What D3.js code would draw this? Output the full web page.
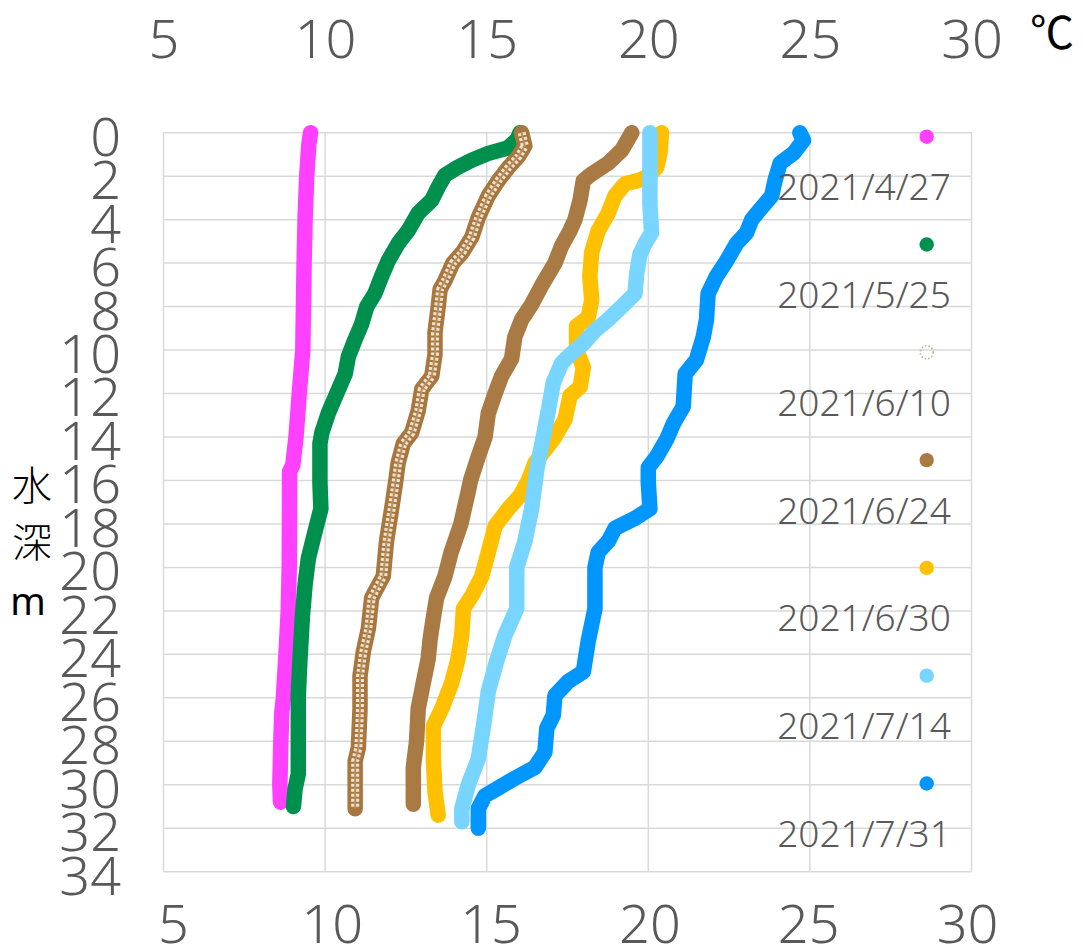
<!DOCTYPE html>
<html>
<head>
<meta charset="utf-8">
<script src="https://cdn.jsdelivr.net/npm/d3@7"></script>
<style>
  html, body { margin: 0; padding: 0; background: #fff; }
  svg { display: block; }
</style>
</head>
<body>
<svg id="chart" width="1083" height="952"></svg>
<script>
// ---- data (depth m, temperature ℃) ----
const seriesNames = ["2021/4/27", "2021/5/25", "2021/6/10", "2021/6/24", "2021/6/30", "2021/7/14", "2021/7/31"];
const seriesColors = ["#FF40FF", "#00904E", "#B08650", "#A97A44", "#FFC000", "#78D5FF", "#0096FF"];

const depth0427 = [0, 0.5, 2, 4, 6, 8, 10, 12, 14, 15.3, 15.6, 17, 20, 22, 24, 26, 26.7, 28, 30, 30.8];
const temp0427  = [9.55, 9.5, 9.43, 9.38, 9.35, 9.33, 9.31, 9.2, 9.1, 9.0, 8.9, 8.9, 8.89, 8.86, 8.79, 8.71, 8.66, 8.63, 8.6, 8.62];

const depth0525 = [0, 0.3, 0.7, 0.95, 1.26, 1.6, 1.95, 2.5, 3.1, 3.7, 4.5, 5.1, 5.9, 6.6, 7.4, 8.0, 8.8, 9.5, 10.3, 11.1, 12, 12.9, 13.8, 14.3, 16.1, 17.3, 18.4, 19.6, 20.8, 22.2, 24.3, 25.9, 29.5, 30.2, 31.0];
const temp0525  = [16.03, 15.95, 15.65, 15.05, 14.54, 14.1, 13.71, 13.5, 13.3, 12.88, 12.57, 12.26, 11.95, 11.75, 11.54, 11.29, 11.13, 10.93, 10.72, 10.62, 10.36, 10.1, 9.9, 9.84, 9.84, 9.87, 9.68, 9.48, 9.38, 9.3, 9.22, 9.17, 9.17, 9.07, 9.02];

const depth0610 = [0, 0.6, 1.1, 1.6, 2.2, 2.9, 3.9, 4.8, 5.5, 6.0, 6.8, 7.2, 8.0, 9.2, 10.2, 11.2, 11.8, 12.8, 13.8, 14.3, 15.2, 16.1, 17.3, 18.8, 20.4, 21.4, 22.8, 23.9, 25.0, 26.5, 28.3, 28.9, 31.1];
const temp0610  = [16.08, 16.18, 15.98, 15.67, 15.36, 15.05, 14.74, 14.54, 14.25, 13.95, 13.71, 13.56, 13.5, 13.4, 13.4, 13.3, 12.99, 12.88, 12.68, 12.42, 12.26, 12.18, 12.06, 11.9, 11.8, 11.44, 11.34, 11.18, 11.08, 11.08, 11.03, 10.93, 10.93];

const depth0624 = [0, 0.8, 1.4, 1.9, 2.2, 3.1, 4.0, 4.5, 5.2, 6.0, 6.9, 7.9, 8.6, 9.4, 10.4, 11.2, 12.0, 12.9, 14.0, 14.9, 16.0, 16.5, 18.0, 19.3, 20.4, 21.4, 22.3, 23.3, 24.2, 25.3, 26.5, 28.0, 29.2, 30.9];
const temp0624  = [19.49, 19.18, 18.76, 18.25, 17.99, 17.89, 17.73, 17.58, 17.32, 17.11, 16.75, 16.39, 16.08, 15.87, 15.77, 15.46, 15.26, 15.05, 14.95, 14.74, 14.5, 14.43, 14.2, 13.9, 13.71, 13.45, 13.35, 13.25, 13.19, 13.04, 12.88, 12.83, 12.73, 12.73];

const depth0630 = [0, 0.95, 1.6, 2.0, 2.2, 2.35, 2.9, 3.7, 4.5, 5.5, 6.6, 7.7, 8.5, 8.9, 10.0, 10.8, 11.7, 12.1, 13.2, 14.0, 14.6, 15.2, 16.0, 16.7, 17.3, 18.1, 19.3, 20.4, 21.3, 21.9, 23.1, 24.3, 25.3, 26.5, 27.3, 28.8, 30.3, 31.4];
const temp0630  = [20.41, 20.36, 20.26, 20.0, 19.7, 19.28, 18.97, 18.76, 18.45, 18.25, 18.19, 18.25, 18.14, 17.78, 17.78, 17.99, 17.89, 17.58, 17.42, 17.11, 16.8, 16.49, 16.29, 16.03, 15.67, 15.26, 15.05, 14.85, 14.54, 14.28, 14.23, 14.1, 13.92, 13.61, 13.35, 13.35, 13.4, 13.5];

const depth0714 = [0, 1.7, 3.3, 4.6, 5.1, 5.6, 6.5, 7.4, 8.0, 8.6, 9.1, 9.7, 10.15, 10.6, 11.5, 12.75, 14.0, 15.5, 17.3, 18.8, 20.0, 21.9, 23.1, 24.3, 25.7, 27.3, 28.8, 30.0, 31.1, 31.7];
const temp0714  = [20.05, 20.05, 20.05, 20.1, 19.9, 19.74, 19.64, 19.59, 19.18, 18.76, 18.35, 17.99, 17.63, 17.32, 17.06, 16.91, 16.75, 16.55, 16.39, 16.18, 15.93, 15.93, 15.57, 15.31, 15.05, 14.9, 14.74, 14.43, 14.23, 14.23];

const depth0731 = [0, 0.35, 0.95, 1.4, 2.2, 2.9, 3.55, 4.0, 4.6, 5.1, 5.9, 6.6, 7.4, 8.6, 9.4, 10.45, 11.1, 12.6, 13.4, 14.1, 14.9, 15.4, 16.1, 17.3, 17.74, 18.2, 18.8, 19.3, 20.0, 21.9, 23.4, 24.8, 25.25, 25.9, 26.8, 27.4, 28.5, 29.2, 29.7, 30.15, 30.5, 31.1, 32.0];
const temp0731  = [24.69, 24.8, 24.49, 24.08, 23.92, 23.82, 23.45, 23.2, 23.04, 22.73, 22.42, 22.11, 21.85, 21.8, 21.7, 21.49, 21.14, 21.08, 20.77, 20.57, 20.26, 20.0, 20.0, 20.05, 19.59, 18.97, 18.76, 18.45, 18.35, 18.35, 18.14, 17.99, 17.52, 17.11, 17.06, 16.86, 16.8, 16.49, 15.87, 15.36, 14.95, 14.74, 14.74];

const xTicks = [5, 10, 15, 20, 25, 30];
const yTicks = d3.range(0, 35, 2);

const depthArrays = [depth0427, depth0525, depth0610, depth0624, depth0630, depth0714, depth0731];
const tempArrays  = [temp0427, temp0525, temp0610, temp0624, temp0630, temp0714, temp0731];

const series = seriesNames.map((name, i) => ({
  name, color: seriesColors[i], dotted: i === 2,
  points: depthArrays[i].map((d, j) => ({ depth: d, temp: tempArrays[i][j] }))
}));

// ---- layout ----
const svg = d3.select("#chart");
const plot = { left: 163.5, right: 971.5, top: 132.7, bottom: 871.7 };
const x = d3.scaleLinear().domain([5, 30]).range([plot.left, plot.right]);
const xBottom = d3.scaleLinear().domain([5, 30]).range([173, 967]);
const y = d3.scaleLinear().domain([0, 34]).range([plot.top, plot.bottom]);

const gridColor = "#D9D9D9";
const labelColor = "#595959";
const tickFont = "'Noto Sans', 'Open Sans', sans-serif";
const lineWidth = 15.5;

// gridlines
const grid = svg.append("g");
grid.selectAll("line.h").data(yTicks).join("line")
  .attr("x1", plot.left).attr("x2", plot.right)
  .attr("y1", d => y(d)).attr("y2", d => y(d))
  .attr("stroke", gridColor).attr("stroke-width", 1.5);
grid.selectAll("line.v").data(xTicks).join("line")
  .attr("x1", d => x(d)).attr("x2", d => x(d))
  .attr("y1", plot.top).attr("y2", plot.bottom)
  .attr("stroke", gridColor).attr("stroke-width", 1.5);

// axes (labels only)
const topAxis = d3.axisTop(x).tickValues(xTicks).tickSize(0).tickPadding(0);
const gTop = svg.append("g").attr("transform", "translate(0,58)").call(topAxis);
const bottomAxis = d3.axisBottom(xBottom).tickValues(xTicks).tickSize(0).tickPadding(0);
const gBottom = svg.append("g").attr("transform", "translate(0,943)").call(bottomAxis);
const leftAxis = d3.axisLeft(y).tickValues(yTicks).tickSize(0).tickPadding(0);
const gLeft = svg.append("g").attr("transform", "translate(121,3)").call(leftAxis);

[gTop, gBottom, gLeft].forEach(g => {
  g.select(".domain").remove();
  g.selectAll("text")
    .attr("fill", labelColor)
    .style("font-family", tickFont)
    .style("font-weight", 300)
    .style("font-size", "54px");
});
gTop.selectAll("text").attr("dy", 0);
gBottom.selectAll("text").attr("dy", 0).attr("y", 0);
gLeft.selectAll("text").attr("dy", "0.36em");

// unit labels
svg.append("text").attr("x", 1030).attr("y", 49)
  .attr("fill", "#000").style("font-family", "'Noto Sans CJK JP', sans-serif")
  .style("font-size", "44px").text("℃");

const yTitle = svg.append("g").attr("fill", "#000").style("font-family", "'Noto Sans CJK JP', sans-serif");
yTitle.append("text").attr("x", 32).attr("y", 500).attr("text-anchor", "middle").style("font-size", "40px").style("font-weight", 300).text("水");
yTitle.append("text").attr("x", 32).attr("y", 557).attr("text-anchor", "middle").style("font-size", "40px").style("font-weight", 300).text("深");
yTitle.append("text").attr("x", 28).attr("y", 615).attr("text-anchor", "middle")
  .style("font-family", "'Noto Sans', sans-serif").style("font-weight", 400).style("font-size", "38px").text("m");

// series lines
const line = d3.line().x(d => x(d.temp)).y(d => y(d.depth)).curve(d3.curveLinear);
const gSeries = svg.append("g");
series.forEach(s => {
  if (s.dotted) {
    gSeries.append("path").datum(s.points).attr("d", line)
      .attr("fill", "none").attr("stroke", "#A8773F").attr("stroke-width", lineWidth)
      .attr("stroke-linecap", "round").attr("stroke-linejoin", "round");
    gSeries.append("path").datum(s.points).attr("d", line)
      .attr("fill", "none").attr("stroke", "#F0E2D0").attr("stroke-width", 8)
      .attr("stroke-dasharray", "3,2")
      .attr("stroke-linecap", "butt").attr("stroke-linejoin", "round");
    gSeries.append("path").datum(s.points).attr("d", line)
      .attr("fill", "none").attr("stroke", "#B8905F").attr("stroke-width", 2)
      .attr("stroke-linejoin", "round");
  } else {
    gSeries.append("path").datum(s.points).attr("d", line)
      .attr("fill", "none").attr("stroke", s.color).attr("stroke-width", lineWidth)
      .attr("stroke-linecap", "round").attr("stroke-linejoin", "round");
  }
});

// legend
const legend = svg.append("g");
series.forEach((s, i) => {
  const cy = 136.7 + i * 107.8;
  if (s.dotted) {
    legend.append("circle").attr("cx", 926.7).attr("cy", cy).attr("r", 6.5)
      .attr("fill", "none").attr("stroke", "#C9A77F").attr("stroke-width", 1.5)
      .attr("stroke-dasharray", "1.5,2");
  } else {
    legend.append("circle").attr("cx", 926.7).attr("cy", cy).attr("r", 7.2).attr("fill", s.color);
  }
  legend.append("text").attr("x", 864).attr("y", cy + 63.5)
    .attr("text-anchor", "middle").attr("fill", labelColor)
    .style("font-family", tickFont).style("font-weight", 300).style("font-size", "37px")
    .text(s.name);
});
</script>
</body>
</html>
